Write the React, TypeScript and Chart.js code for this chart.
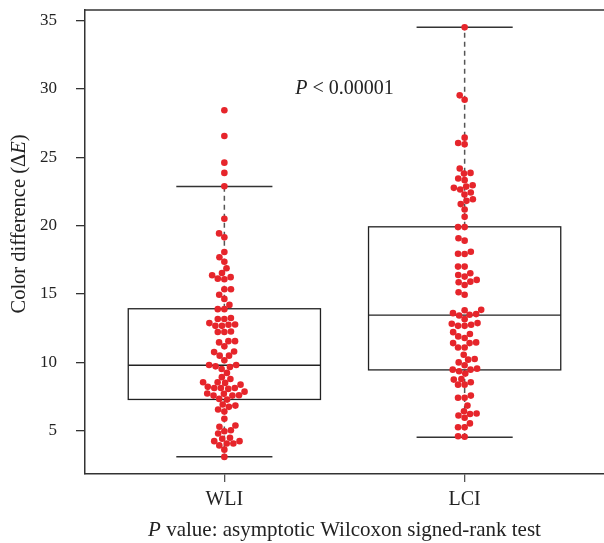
import { useEffect, useRef } from "react";
import { Chart, registerables } from "chart.js";

Chart.register(...registerables);

const categories = ["WLI", "LCI"];

const wliValues = [
  28.43, 26.55, 24.6, 23.85, 22.88, 20.5, 19.43, 19.14, 18.07, 17.68, 17.36, 16.88, 16.53, 16.37, 16.23, 16.12, 16.08,
  15.35, 15.35, 14.94, 14.64, 14.2, 13.89, 13.89,
  13.24, 13.17, 13.17, 12.87, 12.77, 12.75, 12.67, 12.67,
  12.26, 12.22, 12.22,
  11.55, 11.55, 11.46, 11.17,
  10.8, 10.75, 10.49, 10.49, 10.15,
  9.81, 9.81, 9.71, 9.66, 9.52, 9.23,
  8.92, 8.79, 8.55, 8.55, 8.5, 8.37, 8.21, 8.13, 8.13, 8.13, 8.06, 7.86,
  7.72, 7.7, 7.6, 7.57, 7.57,
  7.33, 7.28,
  6.92, 6.84, 6.75, 6.55, 6.4,
  5.88,
  5.39, 5.29, 5.04, 4.97, 4.8,
  4.49, 4.42, 4.24, 4.24, 4.07, 4.07, 3.93,
  3.62, 3.09,
];

const lciValues = [
  34.49, 29.52, 29.2, 26.43, 26.04, 25.94,
  24.17, 23.85, 23.8, 23.44, 23.32, 22.95, 22.85, 22.76, 22.64, 22.42, 22.27, 21.93, 21.81, 21.57, 21.18, 20.64,
  19.89, 19.89, 19.07, 18.9, 18.09, 17.94, 17.92, 17.0, 17.0,
  16.52, 16.39, 16.27, 16.03, 15.9, 15.86, 15.66, 15.13, 14.94,
  13.84, 13.81, 13.6, 13.53, 13.48, 13.43, 13.16,
  12.87, 12.82, 12.75, 12.67, 12.67,
  12.21, 12.07, 11.9, 11.78,
  11.46, 11.41, 11.41, 11.09, 11.09,
  10.56, 10.25, 10.2, 10.0, 9.79,
  9.54, 9.47, 9.47, 9.35, 9.18,
  8.79, 8.74, 8.55, 8.37, 8.37,
  7.57, 7.41, 7.41,
  6.84,
  6.43, 6.26, 6.23, 6.12, 5.95,
  5.54, 5.26, 5.25,
  4.6, 4.56,
];

// box statistics
const whiskerLow = [3.1, 4.53];
const quartile1 = [7.29, 9.45];
const medians = [9.79, 13.45];
const quartile3 = [13.92, 19.91];
const whiskerHigh = [22.86, 34.49];

const yTicks = [5, 10, 15, 20, 25, 30, 35];
const yMin = 1.84;
const yMax = 35.76;
const xMin = 0.42;
const xMax = 2.58;

const annotationX = 1.5;
const annotationY = 30;

const FONT = "'Liberation Serif', 'Times New Roman', serif";
const RED = "#e6252b";
const DOT_D = 6.6;

function swarm(py: number[], d: number): number[] {
  const order = py.map((_, i) => i).sort((a, b) => py[b] - py[a]);
  const placed: { x: number; y: number }[] = [];
  const out = new Array(py.length).fill(0);
  for (const i of order) {
    const y = py[i];
    const cands = [0];
    for (const p of placed) {
      const dy = Math.abs(p.y - y);
      if (dy < d) {
        const off = Math.sqrt(d * d - dy * dy);
        cands.push(p.x + off, p.x - off);
      }
    }
    cands.sort((a, b) => Math.abs(a) - Math.abs(b) || a - b);
    let best = 0;
    for (const c of cands) {
      if (placed.every((p) => (p.x - c) ** 2 + (p.y - y) ** 2 >= d * d - 1e-6)) {
        best = c;
        break;
      }
    }
    placed.push({ x: best, y });
    out[i] = best;
  }
  return out;
}

function drawMixed(ctx: CanvasRenderingContext2D, parts: { t: string; italic?: boolean }[], size: number, cx: number, cy: number) {
  const fontOf = (it?: boolean) => `${it ? "italic " : ""}${size}px ${FONT}`;
  let total = 0;
  const widths = parts.map((p) => {
    ctx.font = fontOf(p.italic);
    const w = ctx.measureText(p.t).width;
    total += w;
    return w;
  });
  let x = cx - total / 2;
  ctx.textAlign = "left";
  ctx.textBaseline = "middle";
  parts.forEach((p, i) => {
    ctx.font = fontOf(p.italic);
    ctx.fillText(p.t, x, cy);
    x += widths[i];
  });
}

const boxPlugin = {
  id: "boxPlugin",
  beforeDatasetsDraw(chart: any) {
    const { ctx, chartArea } = chart;
    const xs = chart.scales.x;
    const ys = chart.scales.y;
    ctx.save();
    // top frame line
    ctx.strokeStyle = "#333";
    ctx.lineWidth = 1.5;
    ctx.beginPath();
    ctx.moveTo(chartArea.left, chartArea.top);
    ctx.lineTo(chartArea.right, chartArea.top);
    ctx.stroke();

    categories.forEach((_, i) => {
      const c = i + 1;
      const xc = xs.getPixelForValue(c);
      const xl = xs.getPixelForValue(c - 0.4);
      const xr = xs.getPixelForValue(c + 0.4);
      const cl = xs.getPixelForValue(c - 0.2);
      const cr = xs.getPixelForValue(c + 0.2);
      const yq1 = ys.getPixelForValue(quartile1[i]);
      const yq3 = ys.getPixelForValue(quartile3[i]);
      const ymed = ys.getPixelForValue(medians[i]);
      const ylo = ys.getPixelForValue(whiskerLow[i]);
      const yhi = ys.getPixelForValue(whiskerHigh[i]);

      // dashed whiskers
      ctx.strokeStyle = "#555";
      ctx.lineWidth = 1.5;
      ctx.setLineDash([5, 4]);
      ctx.beginPath();
      ctx.moveTo(xc, yq3);
      ctx.lineTo(xc, yhi);
      ctx.moveTo(xc, yq1);
      ctx.lineTo(xc, ylo);
      ctx.stroke();
      ctx.setLineDash([]);

      // caps
      ctx.strokeStyle = "#333";
      ctx.lineWidth = 1.5;
      ctx.beginPath();
      ctx.moveTo(cl, yhi);
      ctx.lineTo(cr, yhi);
      ctx.moveTo(cl, ylo);
      ctx.lineTo(cr, ylo);
      ctx.stroke();

      // box
      ctx.strokeStyle = "#222";
      ctx.lineWidth = 1.3;
      ctx.strokeRect(xl, yq3, xr - xl, yq1 - yq3);
      ctx.beginPath();
      ctx.moveTo(xl, ymed);
      ctx.lineTo(xr, ymed);
      ctx.stroke();
    });
    ctx.restore();
  },
  afterDraw(chart: any) {
    const { ctx, chartArea } = chart;
    const xs = chart.scales.x;
    const ys = chart.scales.y;
    ctx.save();
    ctx.fillStyle = "#222";
    // annotation
    drawMixed(
      ctx,
      [{ t: "P", italic: true }, { t: " < 0.00001" }],
      20,
      xs.getPixelForValue(annotationX),
      ys.getPixelForValue(annotationY)
    );
    // x caption
    drawMixed(
      ctx,
      [{ t: "P", italic: true }, { t: " value: asymptotic Wilcoxon signed-rank test" }],
      21,
      (chartArea.left + chartArea.right) / 2,
      530
    );
    // y title
    ctx.translate(20, 224);
    ctx.rotate(-Math.PI / 2);
    drawMixed(ctx, [{ t: "Color difference (Δ" }, { t: "E", italic: true }, { t: ")" }], 20.5, 0, 0);
    ctx.restore();
  },
};

export default function App() {
  const ref = useRef<HTMLCanvasElement | null>(null);

  useEffect(() => {
    if (!ref.current) return;
    const chart = new Chart(ref.current, {
      type: "scatter",
      data: {
        datasets: [
          { label: categories[0], data: wliValues.map((v) => ({ x: 1, y: v })), backgroundColor: RED, borderWidth: 0, pointRadius: DOT_D / 2 },
          { label: categories[1], data: lciValues.map((v) => ({ x: 2, y: v })), backgroundColor: RED, borderWidth: 0, pointRadius: DOT_D / 2 },
        ],
      },
      options: {
        responsive: false,
        animation: false,
        devicePixelRatio: 1,
        layout: { autoPadding: false, padding: { top: 10, left: 0, right: 0, bottom: 0 } },
        plugins: { legend: { display: false }, tooltip: { enabled: false } },
        scales: {
          x: {
            type: "linear",
            min: xMin,
            max: xMax,
            afterBuildTicks: (s: any) => {
              s.ticks = categories.map((_, i) => ({ value: i + 1 }));
            },
            afterFit: (s: any) => {
              s.height = 69;
              s.paddingLeft = 0;
              s.paddingRight = 0;
              s.paddingTop = 0;
              s.paddingBottom = 0;
            },
            grid: { drawOnChartArea: false, drawTicks: true, tickLength: 8, color: "#555", lineWidth: 1.3 },
            border: { display: true, color: "#333", width: 1.5 },
            ticks: {
              font: { family: FONT, size: 20 },
              color: "#222",
              padding: 6,
              maxRotation: 0,
              callback: (v: any) => categories[Math.round(Number(v)) - 1] ?? "",
            },
          },
          y: {
            type: "linear",
            min: yMin,
            max: yMax,
            afterBuildTicks: (s: any) => {
              s.ticks = yTicks.map((v) => ({ value: v }));
            },
            afterFit: (s: any) => {
              s.width = 85;
              s.paddingLeft = 0;
              s.paddingRight = 0;
              s.paddingTop = 0;
              s.paddingBottom = 0;
            },
            grid: { drawOnChartArea: false, drawTicks: true, tickLength: 9, color: "#333", lineWidth: 1.3 },
            border: { display: true, color: "#333", width: 1.5 },
            ticks: { font: { family: FONT, size: 17 }, color: "#222", padding: 19 },
          },
        },
      },
      plugins: [boxPlugin],
    } as any);

    const xs: any = chart.scales.x;
    const ys: any = chart.scales.y;
    [wliValues, lciValues].forEach((vals, i) => {
      const cx = xs.getPixelForValue(i + 1);
      const offs = swarm(vals.map((v) => ys.getPixelForValue(v)), DOT_D);
      chart.data.datasets[i].data = vals.map((v, k) => ({ x: xs.getValueForPixel(cx + offs[k]), y: v })) as any;
    });
    chart.update("none");

    return () => chart.destroy();
  }, []);

  return (
    <div style={{ position: "fixed", left: 0, top: 0, width: 604, height: 543, background: "#fff" }}>
      <canvas ref={ref} width={604} height={543} style={{ display: "block" }} />
    </div>
  );
}
